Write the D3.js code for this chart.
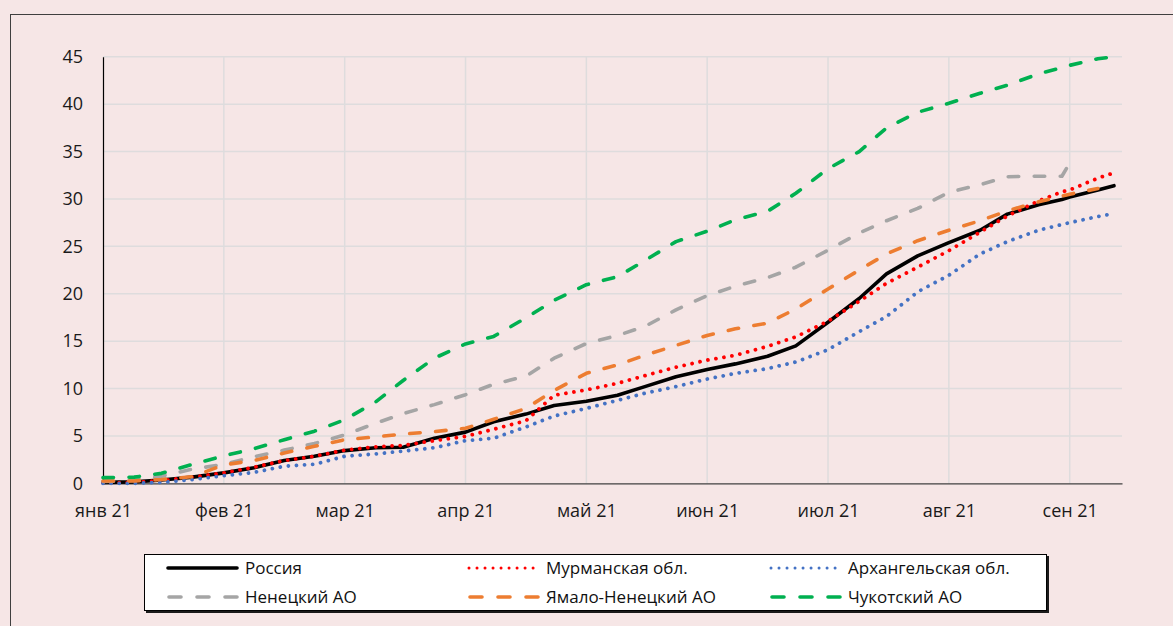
<!DOCTYPE html>
<html>
<head>
<meta charset="utf-8">
<script src="https://cdn.jsdelivr.net/npm/d3@7"></script>
<style>
  html, body { margin: 0; padding: 0; background: #F6E6E6; }
  svg { display: block; }
</style>
</head>
<body>
<script>
// ---------- DATA ----------
const monthLabels = ["янв 21","фев 21","мар 21","апр 21","май 21","июн 21","июл 21","авг 21","сен 21"];
const yTicks = [0,5,10,15,20,25,30,35,40,45];

const dates = ["2021-01-01","2021-01-09","2021-01-16","2021-01-24","2021-02-01","2021-02-08","2021-02-15","2021-02-22",
  "2021-03-01","2021-03-09","2021-03-16","2021-03-24","2021-04-01","2021-04-08","2021-04-16","2021-04-23",
  "2021-05-01","2021-05-09","2021-05-16","2021-05-24","2021-06-01","2021-06-08","2021-06-16","2021-06-23",
  "2021-07-01","2021-07-09","2021-07-16","2021-07-24","2021-08-01","2021-08-09","2021-08-16","2021-08-24",
  "2021-08-30","2021-09-01","2021-09-08","2021-09-12"];

const russia      = [0.1,0.15,0.35,0.65,1.1,1.65,2.4,2.85,3.45,3.75,3.8,4.75,5.4,6.5,7.3,8.2,8.65,9.3,10.2,11.25,12.0,12.6,13.4,14.5,17.0,19.5,22.1,24.0,25.4,26.7,28.4,29.4,29.95,30.2,30.95,31.4];
const murmansk    = [0.05,0.1,0.3,0.65,1.1,1.7,2.4,2.85,3.5,3.85,4.0,4.5,4.95,5.7,6.6,9.3,9.85,10.55,11.35,12.25,13.0,13.5,14.45,15.45,17.1,19.2,21.1,22.8,24.55,26.5,28.2,29.8,30.75,30.95,32.2,32.75];
const arkhangelsk = [0,0,0.1,0.4,0.8,1.15,1.8,2.0,2.85,3.1,3.4,3.75,4.5,4.75,5.95,7.1,7.9,8.75,9.5,10.2,11.0,11.6,12.1,12.8,14.1,16.0,17.6,20.2,21.95,24.2,25.5,26.7,27.3,27.5,28.15,28.45];
const nenets      = [0.2,0.3,0.75,1.5,2.0,2.8,3.5,4.2,5.1,6.35,7.35,8.3,9.35,10.45,11.3,13.2,14.75,15.6,16.55,18.3,19.8,20.8,21.7,22.8,24.6,26.4,27.7,29.0,30.7,31.5,32.35,32.4,32.4,33.8,null,null];
const yamal       = [0.25,0.25,0.4,0.7,1.95,2.4,3.2,3.9,4.6,4.9,5.2,5.45,5.8,6.75,7.9,9.8,11.6,12.5,13.5,14.55,15.6,16.3,16.9,18.4,20.5,22.5,24.2,25.6,26.7,27.7,28.75,29.7,30.3,30.5,31.1,null];
const chukotka    = [0.6,0.65,1.05,2.0,2.9,3.65,4.6,5.5,6.7,8.6,10.85,13.2,14.7,15.5,17.45,19.3,20.95,21.8,23.5,25.5,26.6,27.8,28.7,30.6,33.2,35.0,37.5,39.15,40.1,41.15,42.0,43.2,43.85,44.1,44.8,45.0];

const seriesNames = ["Россия","Мурманская обл.","Архангельская обл.","Ненецкий АО","Ямало-Ненецкий АО","Чукотский АО"];
const seriesValues = [russia, murmansk, arkhangelsk, nenets, yamal, chukotka];
const seriesColors = ["#000000","#FF0000","#4472C4","#A5A5A5","#ED7D31","#00B050"];
const seriesStyles = ["solid","dot","dot","dash","dash","dash"];

// ---------- LAYOUT ----------
const W = 1173, H = 626;
const plotL = 103, plotR = 1122, plotT = 56.8, plotB = 483.3;
const monthStep = (1069.7 - plotL) / 8;

const parse = d3.timeParse("%Y-%m-%d");
const dateObjs = dates.map(parse);
const monthStarts = d3.range(9).map(i => new Date(2021, i, 1));
const domainEnd = new Date(2021, 8, 14);

const x = d3.scaleTime()
  .domain([...monthStarts, domainEnd])
  .range([...monthStarts.map((d, i) => plotL + i * monthStep), plotR]);
const y = d3.scaleLinear().domain([0, 45]).range([plotB, plotT]);

const svg = d3.select("body").append("svg").attr("width", W).attr("height", H);
svg.append("rect").attr("width", W).attr("height", H).attr("fill", "#F6E6E6");
svg.append("rect").attr("x", 10.5).attr("y", 14.5).attr("width", 1200).attr("height", 700)
  .attr("fill", "none").attr("stroke", "#3F3F3F").attr("stroke-width", 1);

const font = "'Open Sans', 'Noto Sans', sans-serif";

// gridlines
const grid = svg.append("g");
grid.selectAll("line.h").data(yTicks.filter(v => v > 0)).join("line")
  .attr("x1", plotL).attr("x2", plotR)
  .attr("y1", d => y(d)).attr("y2", d => y(d))
  .attr("stroke", "#DEDCDD").attr("stroke-width", 1.5);
grid.selectAll("line.v").data(monthStarts.slice(1)).join("line")
  .attr("x1", d => x(d)).attr("x2", d => x(d))
  .attr("y1", plotT).attr("y2", plotB)
  .attr("stroke", "#DEDCDD").attr("stroke-width", 1.5);

// axes
const yAxis = svg.append("g").attr("transform", `translate(${plotL},0)`)
  .call(d3.axisLeft(y).tickValues(yTicks).tickSize(0).tickSizeOuter(0).tickPadding(20));
yAxis.select(".domain").attr("stroke", "#000").attr("stroke-width", 1.2);
yAxis.selectAll("text").attr("font-family", font).attr("font-size", 18).attr("fill", "#1A1A1A");

const xAxis = svg.append("g").attr("transform", `translate(0,${plotB})`)
  .call(d3.axisBottom(x).tickValues(monthStarts).tickFormat((d, i) => monthLabels[i])
    .tickSize(0).tickSizeOuter(0).tickPadding(21));
xAxis.select(".domain").attr("stroke", "#404040").attr("stroke-width", 1.3);
xAxis.selectAll("text").attr("font-family", font).attr("font-size", 18).attr("fill", "#1A1A1A");

// lines
const styleAttrs = {
  solid: { w: 3.6, dash: null, cap: "round" },
  dot:   { w: 3.8, dash: "0.01 8.1", cap: "round" },
  dash:  { w: 3.6, dash: "10.5 15.5", cap: "round" }
};
const line = d3.line()
  .defined(d => d.v != null)
  .x(d => x(d.date))
  .y(d => y(d.v));

seriesValues.forEach((vals, si) => {
  const st = styleAttrs[seriesStyles[si]];
  const pts = vals.map((v, i) => ({ date: dateObjs[i], v }));
  svg.append("path").datum(pts)
    .attr("d", line)
    .attr("fill", "none")
    .attr("stroke", seriesColors[si])
    .attr("stroke-width", st.w)
    .attr("stroke-linecap", st.cap)
    .attr("stroke-linejoin", "round")
    .attr("stroke-dasharray", st.dash);
});

// legend
const lg = svg.append("g");
lg.append("rect").attr("x", 146).attr("y", 556).attr("width", 903).attr("height", 57).attr("fill", "#1a1a1a");
lg.append("rect").attr("x", 144.5).attr("y", 554.5).attr("width", 902).attr("height", 56)
  .attr("fill", "#FFFFFF").attr("stroke", "#000").attr("stroke-width", 1);
const colX = [167, 468, 770];
const rowY = [568, 597];
seriesNames.forEach((name, i) => {
  const cx = colX[i % 3], cy = rowY[Math.floor(i / 3)];
  const st = styleAttrs[seriesStyles[i]];
  let dash = st.dash;
  if (seriesStyles[i] === "dash") dash = "12 16";
  lg.append("line")
    .attr("x1", cx + (seriesStyles[i] === "dash" ? 2 : 1)).attr("x2", cx + 70)
    .attr("y1", cy).attr("y2", cy)
    .attr("stroke", seriesColors[i])
    .attr("stroke-width", seriesStyles[i] === "dot" ? 3 : 3.6)
    .attr("stroke-linecap", st.cap)
    .attr("stroke-dasharray", seriesStyles[i] === "dot" ? "0.01 8" : dash);
  lg.append("text")
    .attr("x", cx + 78).attr("y", cy).attr("dy", "0.35em")
    .attr("font-family", font).attr("font-size", 17).attr("fill", "#111")
    .text(name);
});
</script>
</body>
</html>
